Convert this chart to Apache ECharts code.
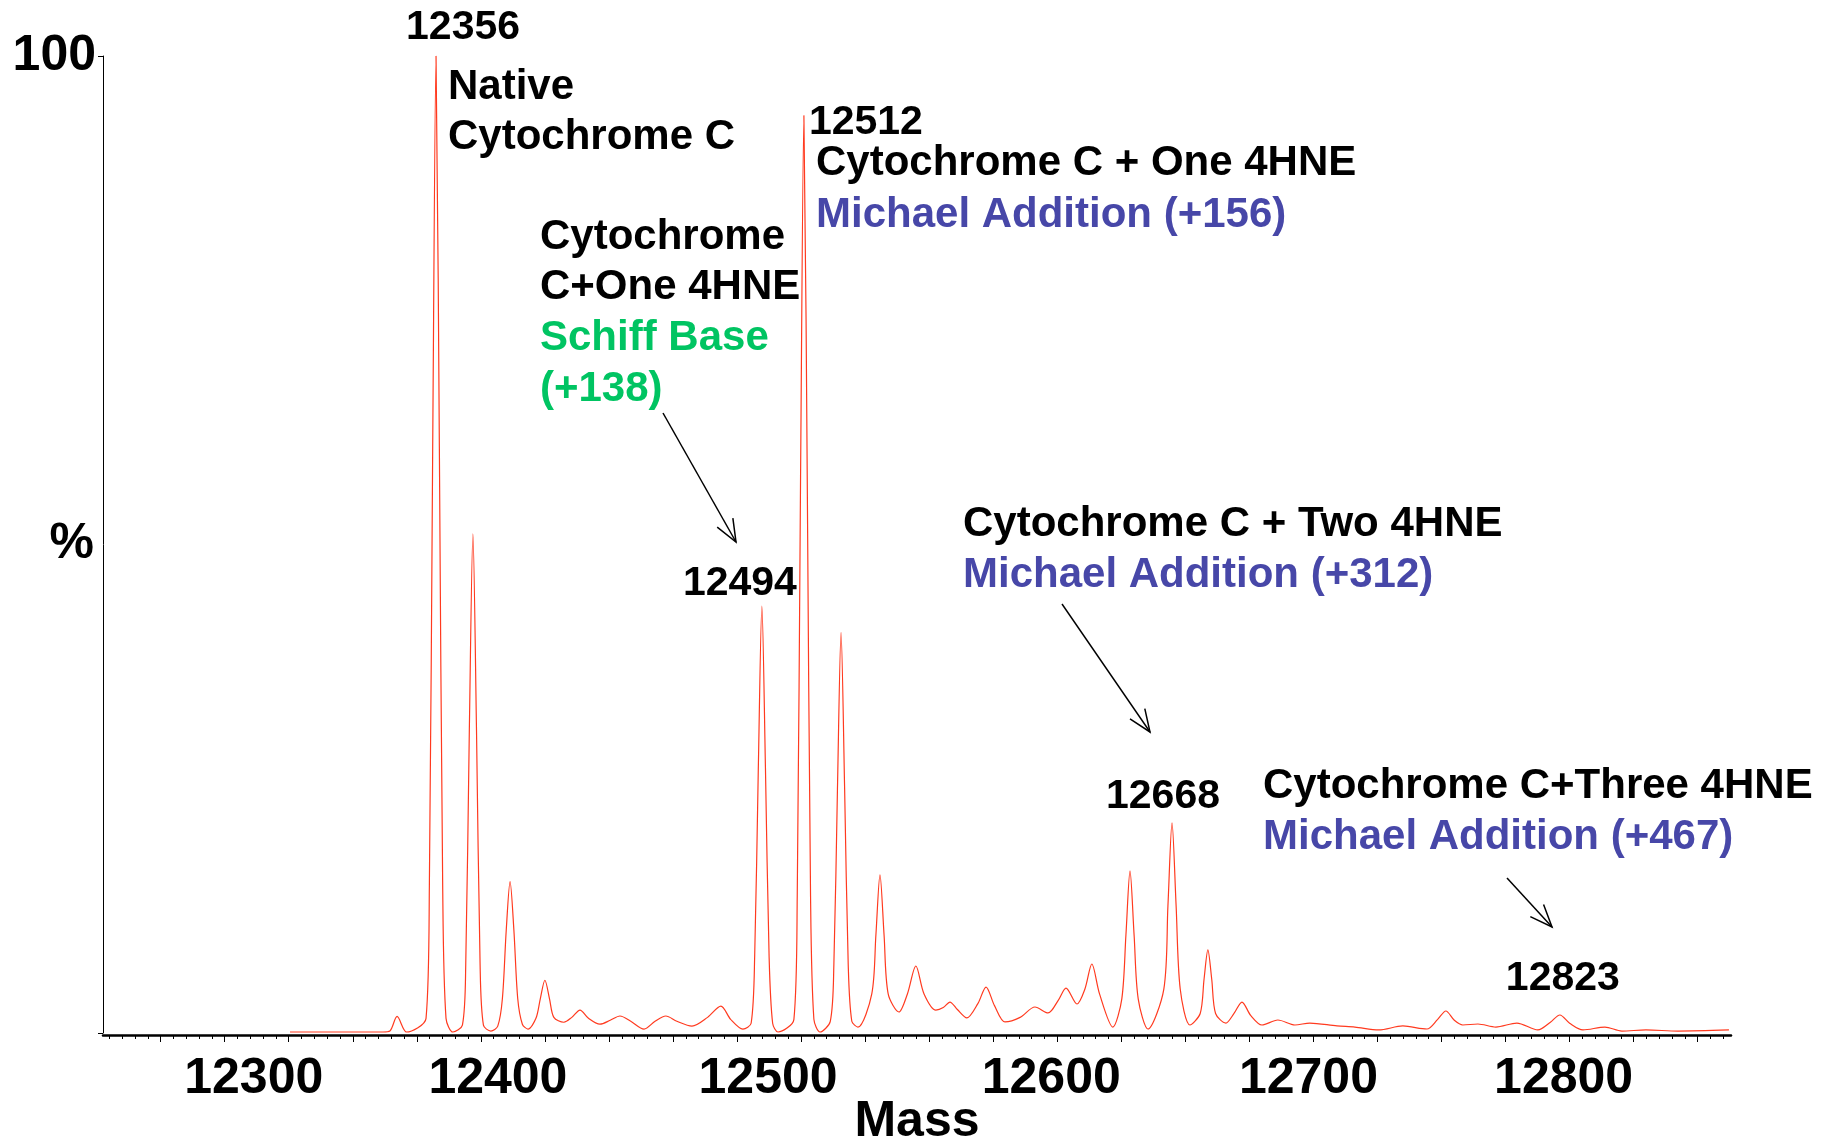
<!DOCTYPE html>
<html><head><meta charset="utf-8">
<script src="https://cdn.jsdelivr.net/npm/echarts@6/dist/echarts.min.js"></script>
<style>html,body{margin:0;padding:0;background:#fff}#c{width:1839px;height:1143px}</style>
</head><body><div id="c"></div>
<script>
// ---- data ----
const masses = [
  12300.5,12336.8,12339.5,12342.3,12346.0,
  12353.6,12354.9,12356.2,12357.5,12358.8,12360.1,12361.4,12364.1,
  12367.8,12369.1,12370.5,12371.9,12373.3,12374.7,12376.0,12378.9,
  12381.6,12383.4,12384.9,12386.4,12387.9,12389.4,12391.2,12393.4,
  12396.5,12398.2,12400.0,12401.8,12403.5,12407.4,
  12410.5,12413.7,12417.0,12421.5,12425.5,12429.3,12433.5,12438.7,
  12443.0,12447.2,12451.5,12457.4,12463.5,12468.7,12472.5,12477.3,
  12480.5,12481.9,12483.3,12484.7,12486.1,12487.5,12488.9,12491.0,
  12497.2,12498.5,12499.8,12501.1,12502.4,12503.7,12505.0,12507.4,
  12511.4,12512.8,12514.2,12515.6,12517.0,12518.4,12519.8,12522.2,
  12527.6,12529.2,12530.8,12532.4,12534.0,12538.2,
  12541.5,12544.8,12548.0,12552.6,12555.5,12558.1,12561.0,12564.7,
  12569.0,12572.2,12575.5,12579.6,12585.5,12591.3,12596.4,
  12600.5,12603.4,12607.7,12610.8,12613.5,12616.5,12621.7,
  12625.2,12626.8,12628.4,12630.0,12631.6,12635.4,
  12641.6,12643.2,12644.8,12646.4,12648.0,12651.8,
  12655.8,12657.3,12658.8,12660.3,12661.8,12665.8,
  12669.0,12672.1,12675.5,12679.9,12686.1,12692.8,12698.6,12709.2,12716.2,
  12725.5,12734.9,12744.3,12748.5,12751.7,12755.0,12758.3,12764.2,12771.2,
  12779.4,12787.6,12792.5,12796.2,12800.0,12805.2,12813.8,12820.4,12829.8,
  12842.3,12862.2
];
const intensities = [
  0.1,0.1,0.2,1.7,0.1,
  1.5,15,60,100,60,15,1.5,0.1,
  0.8,7,31,51.1,31,7,0.8,0.2,
  0.7,3.5,10.5,15.5,10.5,3.5,0.9,0.4,
  1.5,3.5,5.4,3.5,1.6,1.1,
  1.6,2.35,1.5,0.9,1.3,1.74,1.2,0.4,
  1.2,1.74,1.2,0.7,1.6,2.76,1.4,0.4,
  1,8,27,43.7,27,8,1,0.1,
  1.4,14,57,93.9,57,14,1.4,0.1,
  1.2,7,25,41.0,25,7,1.2,0.6,
  4,10,16.2,10,4,2.15,
  4,6.86,4,2.35,2.6,3.17,2.4,1.54,
  3,4.7,2.8,1.13,1.6,2.66,2.05,
  3.4,4.6,2.97,4.5,7.06,4,0.61,
  3.5,10,16.6,10,3.5,0.41,
  4.5,13,21.5,13,4.5,0.82,
  2,5.5,8.5,5.5,2,1.02,
  2,3.17,1.8,0.82,1.33,0.82,1.02,0.72,0.61,
  0.31,0.72,0.41,1.4,2.25,1.3,0.82,0.92,0.61,
  1.02,0.31,1.1,1.84,1.0,0.31,0.61,0.2,0.31,
  0.2,0.31
];
const xTickLabels = [12300, 12400, 12500, 12600, 12700, 12800];
const yTickLabels = [100];
const peakLabelMasses = [12357.5, 12484.7, 12501.1, 12644.8, 12796.2];
const peakLabelTexts = ['12356', '12494', '12512', '12668', '12823'];

// ---- layout / style ----
const FONT = '"Liberation Sans", Arial, sans-serif';
const RED = '#ff3a1f', BLUE = '#4747a8', GREEN = '#00c462';
const xMin = 12227.5, xMax = 12863;
const majorTicks = [], minorTicks = [];
for (let v = 12250; v <= 12850; v += 25) majorTicks.push(v);
for (let v = 12230; v <= 12860; v += 5) if (v % 25 !== 0) minorTicks.push(v);

// horizontal shift (px) of each x tick label as placed in the source figure
const labelShift = [-35, -47, -33, -6, -5, -6];
const xRich = {};
xTickLabels.forEach((v, i) => {
  const s = labelShift[i];
  xRich['l' + i] = { fontSize: 50, fontWeight: 'bold', color: '#000', fontFamily: FONT,
    padding: s < 0 ? [0, -2 * s, 0, 0] : [0, 0, 0, 2 * s] };
});

const labelOffsets = [[27,-28],[-22,-22],[62,7],[-9,-26],[3,-36]];
const markData = peakLabelMasses.map((m, i) => {
  const idx = masses.indexOf(m);
  return {
    coord: [m, intensities[idx]],
    label: { formatter: peakLabelTexts[i], offset: labelOffsets[i] }
  };
});

function txt(x, y, s, color) {
  return { type: 'text', x: x, y: y, z: 100,
    style: { text: s, fill: color || '#000', fontSize: 42, fontWeight: 'bold', fontFamily: FONT,
      align: 'left', verticalAlign: 'middle' } };
}
function arrow(x1, y1, x2, y2) {
  const dx = x2 - x1, dy = y2 - y1, L = Math.hypot(dx, dy);
  const ux = dx / L, uy = dy / L, h = 24, a = 22 * Math.PI / 180;
  const bx = -ux, by = -uy;
  const r1 = [x2 + h * (bx * Math.cos(a) - by * Math.sin(a)), y2 + h * (bx * Math.sin(a) + by * Math.cos(a))];
  const r2 = [x2 + h * (bx * Math.cos(-a) - by * Math.sin(-a)), y2 + h * (bx * Math.sin(-a) + by * Math.cos(-a))];
  return [
    { type: 'line', z: 100, shape: { x1, y1, x2, y2 }, style: { stroke: '#000', lineWidth: 1.5 } },
    { type: 'polyline', z: 100, shape: { points: [r1, [x2, y2], r2] }, style: { stroke: '#000', lineWidth: 1.5, fill: null } }
  ];
}

const graphics = [
  txt(448, 87, 'Native'),
  txt(448, 137, 'Cytochrome C'),
  txt(816, 163, 'Cytochrome C + One 4HNE'),
  txt(816, 215, 'Michael Addition (+156)', BLUE),
  txt(540, 237, 'Cytochrome'),
  txt(540, 287, 'C+One 4HNE'),
  txt(540, 338, 'Schiff Base', GREEN),
  txt(540, 389, '(+138)', GREEN),
  txt(963, 524, 'Cytochrome C + Two 4HNE'),
  txt(963, 575, 'Michael Addition (+312)', BLUE),
  txt(1263, 786, 'Cytochrome C+Three 4HNE'),
  txt(1263, 837, 'Michael Addition (+467)', BLUE)
].concat(arrow(663, 413, 736, 542), arrow(1062, 604, 1150, 732), arrow(1507, 878, 1552, 927));

const chart = echarts.init(document.getElementById('c'), null, { renderer: 'canvas' });
chart.setOption({
  backgroundColor: '#fff',
  animation: false,
  grid: { left: 103, right: 108, top: 56, bottom: 110, containLabel: false, outerBoundsMode: 'none' },
  xAxis: [{
    type: 'value', min: xMin, max: xMax, position: 'bottom', offset: 2,
    splitLine: { show: false },
    axisLine: { show: true, onZero: false, lineStyle: { color: '#000', width: 2.5 } },
    axisTick: { show: true, customValues: majorTicks, length: 7, lineStyle: { color: '#000', width: 1 } },
    axisLabel: { customValues: xTickLabels,
      formatter: v => '{l' + xTickLabels.indexOf(v) + '|' + v + '}',
      rich: xRich, margin: 19, fontSize: 50, fontWeight: 'bold', color: '#000', fontFamily: FONT },
    name: 'Mass', nameLocation: 'middle', nameGap: 62, nameMoveOverlap: false,
    nameTextStyle: { fontSize: 50, fontWeight: 'bold', color: '#000', fontFamily: FONT }
  }, {
    type: 'value', min: xMin, max: xMax, position: 'bottom', offset: 2,
    splitLine: { show: false },
    axisLine: { show: false, onZero: false },
    axisLabel: { show: false },
    axisTick: { show: true, customValues: minorTicks, length: 4, lineStyle: { color: '#000', width: 1 } }
  }],
  yAxis: {
    type: 'value', min: 0, max: 100,
    splitLine: { show: false },
    axisLine: { show: true, lineStyle: { color: '#000', width: 1 } },
    axisTick: { show: true, customValues: [0, 100], length: 5, lineStyle: { color: '#000' } },
    axisLabel: { customValues: yTickLabels, formatter: v => String(v), margin: 7, fontSize: 50, fontWeight: 'bold', color: '#000', fontFamily: FONT, padding: [0, 0, 12, 0] },
    name: '%', nameLocation: 'middle', nameRotate: 0, nameGap: 9, nameMoveOverlap: false,
    nameTextStyle: { fontSize: 50, fontWeight: 'bold', color: '#000', fontFamily: FONT, padding: [18, 0, 0, 0] }
  },
  series: [{
    type: 'line',
    data: masses.map((m, i) => [m, intensities[i]]),
    showSymbol: false,
    smooth: 0.3,
    lineStyle: { color: RED, width: 1.2 },
    markPoint: {
      symbol: 'rect', symbolSize: 1, itemStyle: { color: 'rgba(0,0,0,0)' },
      label: { show: true, position: 'inside', color: '#000', fontSize: 41, fontWeight: 'bold', fontFamily: FONT },
      data: markData
    }
  }],
  graphic: graphics
});
</script></body></html>
